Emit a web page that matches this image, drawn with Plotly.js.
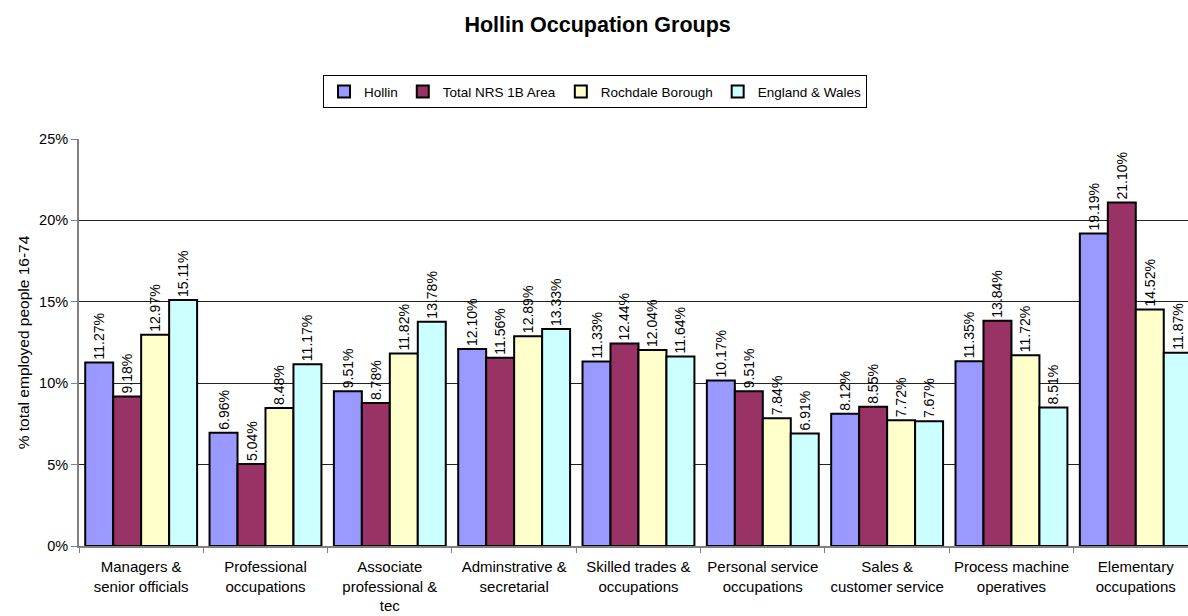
<!DOCTYPE html>
<html>
<head>
<meta charset="utf-8">
<script src="https://cdn.plot.ly/plotly-3.0.1.min.js"></script>
<style>
html,body{margin:0;padding:0;background:#fff;overflow:hidden;}
#chart{width:1188px;height:616px;}
</style>
</head>
<body>
<div id="chart"></div>
<script>
const categories = [
  "Managers &<br>senior officials",
  "Professional<br>occupations",
  "Associate<br>professional &<br>tec",
  "Adminstrative &<br>secretarial",
  "Skilled trades &<br>occupations",
  "Personal service<br>occupations",
  "Sales &<br>customer service",
  "Process machine<br>operatives",
  "Elementary<br>occupations"
];
const seriesNames = ["Hollin", "Total NRS 1B Area", "Rochdale Borough", "England & Wales"];
const hollin    = [11.27, 6.96, 9.51, 12.10, 11.33, 10.17, 8.12, 11.35, 19.19];
const totalNRS  = [9.18, 5.04, 8.78, 11.56, 12.44, 9.51, 8.55, 13.84, 21.10];
const rochdale  = [12.97, 8.48, 11.82, 12.89, 12.04, 7.84, 7.72, 11.72, 14.52];
const englandWales = [15.11, 11.17, 13.78, 13.33, 11.64, 6.91, 7.67, 8.51, 11.87];
const yTickVals = [0, 5, 10, 15, 20, 25];
const yTickText = ["0%", "5%", "10%", "15%", "20%", "25%"];

const colors = ["#9999FF", "#993366", "#FFFFCC", "#CCFFFF"];
const seriesValues = [hollin, totalNRS, rochdale, englandWales];

const FONT = "Arial, 'Liberation Sans', sans-serif";

const traces = seriesValues.map((vals, i) => ({
  type: "bar",
  name: seriesNames[i],
  x: categories,
  y: vals,
  marker: { color: colors[i], line: { color: "#000", width: 2 } },
  text: vals.map(v => v.toFixed(2) + "%"),
  textposition: "outside",
  textangle: -90,
  constraintext: "none",
  textfont: { family: FONT, size: 14, color: "#000" },
  cliponaxis: false,
  hoverinfo: "x+y+name"
}));

const layout = {
  width: 1188,
  height: 616,
  paper_bgcolor: "#fff",
  plot_bgcolor: "#fff",
  margin: { l: 79, r: 0, t: 139, b: 70 },
  font: { family: FONT, size: 14, color: "#000" },
  title: {
    text: "<b>Hollin Occupation Groups</b>",
    font: { family: FONT, size: 21.5, color: "#000" },
    x: 0.503, xanchor: "center",
    y: 0.961, yanchor: "middle"
  },
  barmode: "group",
  bargap: 0.1,
  bargroupgap: 0,
  showlegend: true,
  legend: {
    orientation: "h",
    x: 0.4653, xanchor: "center",
    y: 1.157, yanchor: "top",
    bordercolor: "#000",
    borderwidth: 1,
    bgcolor: "#fff",
    font: { family: FONT, size: 13.5, color: "#000" },
    itemwidth: 30,
    traceorder: "normal"
  },
  xaxis: {
    type: "category",
    range: [-0.5, 8.42],
    tickson: "boundaries",
    ticks: "outside",
    ticklen: 5,
    tickcolor: "#808080",
    showline: true,
    linecolor: "#808080",
    linewidth: 2,
    showgrid: false,
    ticklabelstandoff: 6,
    tickfont: { family: FONT, size: 15, color: "#000" },
    automargin: false
  },
  yaxis: {
    range: [0, 25],
    tickvals: yTickVals,
    ticktext: yTickText,
    ticks: "outside",
    ticklen: 6,
    tickcolor: "#808080",
    showline: true,
    linecolor: "#808080",
    linewidth: 2,
    showgrid: true,
    gridcolor: "#222",
    gridwidth: 1,
    zeroline: false,
    tickfont: { family: FONT, size: 14.5, color: "#000" },
    title: {
      text: "% total employed people 16-74",
      font: { family: FONT, size: 15.5, color: "#000" },
      standoff: 6
    },
    automargin: false
  }
};

Plotly.newPlot("chart", traces, layout, { displayModeBar: false, staticPlot: true });
</script>
</body>
</html>
